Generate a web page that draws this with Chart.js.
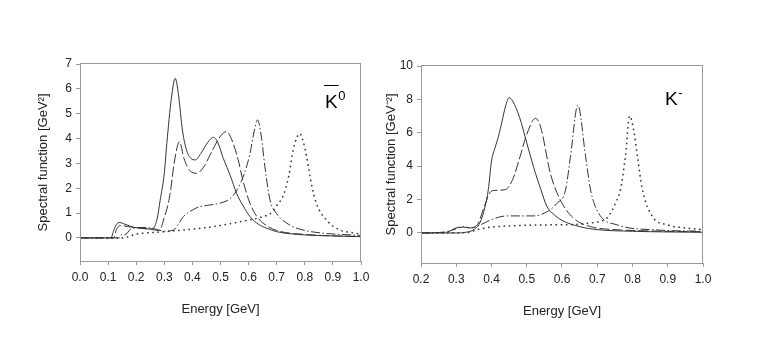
<!DOCTYPE html>
<html>
<head>
<meta charset="utf-8">
<script src="https://cdn.jsdelivr.net/npm/chart.js@4.4.0/dist/chart.umd.min.js"></script>
<style>
  body { margin: 0; background: #fff; width: 763px; height: 348px; position: relative; overflow: hidden; }
  .box { position: absolute; top: 0; height: 348px; }
</style>
</head>
<body>
<div class="box" style="left:0;width:380px"><canvas id="k0"></canvas></div>
<div class="box" style="left:380px;width:383px"><canvas id="km"></canvas></div>
<script>
// anti-kaon K0bar panel: energy [GeV] / spectral function
const k0SolidE = [0, 0.11, 0.12, 0.13, 0.14, 0.16, 0.19, 0.22, 0.25, 0.262, 0.275, 0.285, 0.3, 0.309, 0.325, 0.339, 0.35, 0.365, 0.38, 0.395, 0.41, 0.43, 0.455, 0.475, 0.49, 0.51, 0.535, 0.557, 0.58, 0.605, 0.635, 0.664, 0.7, 0.8, 0.9, 1.0];
const k0SolidS = [0, 0, 0.3, 0.55, 0.62, 0.55, 0.43, 0.38, 0.36, 0.4, 0.8, 1.5, 2.6, 3.8, 5.6, 6.42, 5.8, 4.3, 3.5, 3.2, 3.14, 3.4, 3.85, 4.05, 3.85, 3.2, 2.5, 1.8, 1.3, 0.86, 0.55, 0.39, 0.25, 0.12, 0.08, 0.05];
const k0DashE = [0, 0.12, 0.13, 0.145, 0.17, 0.2, 0.25, 0.28, 0.29, 0.297, 0.31, 0.321, 0.335, 0.354, 0.37, 0.39, 0.416, 0.44, 0.47, 0.5, 0.522, 0.54, 0.563, 0.58, 0.605, 0.63, 0.652, 0.7, 0.8, 0.9, 1.0];
const k0DashS = [0, 0, 0.35, 0.5, 0.45, 0.42, 0.35, 0.3, 0.45, 0.72, 1.2, 1.8, 3.0, 3.87, 3.2, 2.72, 2.6, 2.85, 3.5, 4.1, 4.28, 3.95, 3.14, 2.3, 1.39, 0.85, 0.59, 0.3, 0.14, 0.08, 0.06];
const k0DotDashE = [0, 0.14, 0.15, 0.16, 0.18, 0.22, 0.26, 0.3, 0.333, 0.35, 0.368, 0.4, 0.427, 0.46, 0.498, 0.53, 0.56, 0.585, 0.605, 0.62, 0.632, 0.645, 0.658, 0.676, 0.699, 0.746, 0.8, 0.865, 1.0];
const k0DotDashS = [0, 0, 0.15, 0.12, 0.35, 0.42, 0.38, 0.27, 0.32, 0.55, 0.86, 1.12, 1.26, 1.32, 1.4, 1.55, 1.95, 2.6, 3.4, 4.3, 4.75, 4.1, 2.87, 1.53, 0.99, 0.52, 0.3, 0.19, 0.1];
const k0DotE = [0, 0.15, 0.2, 0.3, 0.4, 0.5, 0.6, 0.65, 0.68, 0.7, 0.723, 0.743, 0.758, 0.772, 0.782, 0.795, 0.806, 0.823, 0.841, 0.877, 0.924, 0.971, 1.0];
const k0DotS = [0, 0, 0.15, 0.25, 0.35, 0.5, 0.72, 0.85, 1.0, 1.3, 1.7, 2.5, 3.5, 4.05, 4.2, 3.85, 3.3, 2.2, 1.4, 0.72, 0.32, 0.21, 0.15];

// K- panel
const kmSolidE = [0.2, 0.3, 0.33, 0.35, 0.367, 0.382, 0.391, 0.4, 0.41, 0.42, 0.43, 0.44, 0.45, 0.46, 0.48, 0.5, 0.52, 0.54, 0.557, 0.58, 0.6, 0.65, 0.7, 0.8, 0.9, 1.0];
const kmSolidS = [0, 0, 0.05, 0.2, 0.6, 1.6, 2.6, 4.3, 5.1, 5.8, 6.7, 7.6, 8.1, 7.9, 6.9, 5.4, 3.9, 2.6, 1.6, 1.05, 0.75, 0.38, 0.2, 0.1, 0.06, 0.04];
const kmDashE = [0.2, 0.27, 0.3, 0.32, 0.34, 0.36, 0.38, 0.395, 0.41, 0.44, 0.46, 0.48, 0.5, 0.525, 0.54, 0.567, 0.595, 0.633, 0.681, 0.75, 0.85, 1.0];
const kmDashS = [0, 0.05, 0.25, 0.35, 0.3, 0.5, 1.6, 2.4, 2.55, 2.6, 3.2, 4.5, 5.9, 6.87, 6.3, 3.57, 1.98, 0.88, 0.38, 0.2, 0.12, 0.07];
const kmDotDashE = [0.2, 0.27, 0.3, 0.32, 0.34, 0.37, 0.4, 0.443, 0.519, 0.56, 0.586, 0.61, 0.624, 0.645, 0.667, 0.681, 0.704, 0.757, 0.87, 1.0];
const kmDotDashS = [0, 0.05, 0.3, 0.38, 0.3, 0.5, 0.8, 1.02, 1.02, 1.3, 1.78, 2.57, 4.57, 7.66, 4.57, 2.57, 1.18, 0.48, 0.18, 0.1];
const kmDotE = [0.2, 0.33, 0.36, 0.4, 0.45, 0.54, 0.63, 0.68, 0.709, 0.728, 0.752, 0.766, 0.78, 0.792, 0.803, 0.814, 0.828, 0.856, 0.9, 0.95, 1.0];
const kmDotS = [0, 0.02, 0.2, 0.35, 0.42, 0.48, 0.5, 0.6, 0.7, 0.9, 1.8, 2.6, 4.6, 7.0, 6.2, 4.6, 2.6, 1.0, 0.48, 0.3, 0.2];

const k0EnergyTicks = [0, 0.1, 0.2, 0.3, 0.4, 0.5, 0.6, 0.7, 0.8, 0.9, 1.0];
const kmEnergyTicks = [0.2, 0.3, 0.4, 0.5, 0.6, 0.7, 0.8, 0.9, 1.0];
const k0SpecTicks = [0, 1, 2, 3, 4, 5, 6, 7];
const kmSpecTicks = [0, 2, 4, 6, 8, 10];

const ink = '#333';
const axisGrey = '#9a9a9a';
const FONT = 'Liberation Sans, Arial, sans-serif';

function pts(xs, ys) {
  return xs.map((x, i) => ({ x: x, y: ys[i] }));
}

function curve(xs, ys, dash, width) {
  return {
    data: pts(xs, ys),
    borderColor: ink,
    borderWidth: width || 1,
    borderDash: dash,
    pointRadius: 0,
    fill: false,
    cubicInterpolationMode: 'monotone'
  };
}

// frame box and the particle symbol in the corner
const framePlugin = {
  id: 'frame',
  afterDraw(chart, args, opts) {
    const ctx = chart.ctx, a = chart.chartArea;
    ctx.save();
    ctx.strokeStyle = axisGrey;
    ctx.lineWidth = 1;
    ctx.strokeRect(Math.round(a.left) + 0.5, Math.round(a.top) - 0.5, Math.round(a.width) - 1, Math.round(a.height) + 1);
    ctx.fillStyle = '#000';
    ctx.font = '19px ' + FONT;
    ctx.textBaseline = 'alphabetic';
    ctx.fillText('K', opts.x, opts.y);
    const kw = ctx.measureText('K').width;
    ctx.font = '13px ' + FONT;
    ctx.fillText(opts.sup, opts.x + kw + 0.5, opts.y - 8);
    if (opts.bar) {
      ctx.strokeStyle = '#000';
      ctx.beginPath();
      ctx.moveTo(opts.x - 1, opts.y - 22.5);
      ctx.lineTo(opts.x + kw + 1, opts.y - 22.5);
      ctx.stroke();
    }
    ctx.restore();
  }
};

function makeChart(id, sets, xMin, xTicks, yMin, yMax, yTicks, yTitle, pad, yWidth, mark) {
  return new Chart(document.getElementById(id), {
    type: 'line',
    data: { datasets: sets },
    plugins: [framePlugin],
    options: {
      responsive: true,
      maintainAspectRatio: false,
      animation: false,
      layout: { padding: pad },
      plugins: {
        legend: { display: false },
        tooltip: { enabled: false },
        frame: mark
      },
      scales: {
        x: {
          type: 'linear',
          min: xMin,
          max: 1.0,
          afterBuildTicks: s => { s.ticks = xTicks.map(v => ({ value: v })); },
          afterFit: s => { s.height = 60; },
          grid: { drawOnChartArea: false, tickLength: 4, color: axisGrey },
          border: { color: axisGrey },
          ticks: {
            color: '#222', font: { family: FONT, size: 12 }, padding: 5, maxRotation: 0,
            callback: v => v.toFixed(1)
          },
          title: { display: true, text: 'Energy [GeV]', color: '#222', font: { family: FONT, size: 13 }, padding: { top: 4, bottom: 4 } }
        },
        y: {
          min: yMin,
          max: yMax,
          afterBuildTicks: s => { s.ticks = yTicks.map(v => ({ value: v })); },
          afterFit: s => { s.width = yWidth; },
          grid: { drawOnChartArea: false, tickLength: 4, color: axisGrey },
          border: { color: axisGrey },
          ticks: { color: '#222', font: { family: FONT, size: 12 }, padding: 4 },
          title: { display: true, text: yTitle, color: '#222', font: { family: FONT, size: 13 }, padding: { top: 4, bottom: 4 } }
        }
      }
    }
  });
}

makeChart('k0', [
  curve(k0SolidE, k0SolidS, []),
  curve(k0DashE, k0DashS, [10, 3]),
  curve(k0DotDashE, k0DotDashS, [9, 2.5, 1.5, 2.5]),
  curve(k0DotE, k0DotS, [1.6, 3.6], 1.5)
], 0, k0EnergyTicks, -0.93, 7, k0SpecTicks, 'Spectral function [GeV\u00b2]',
  { left: 32, top: 64, right: 19, bottom: 27 }, 48,
  { x: 325, y: 108, sup: '0', bar: true });

makeChart('km', [
  curve(kmSolidE, kmSolidS, []),
  curve(kmDashE, kmDashS, [10, 3]),
  curve(kmDotDashE, kmDotDashS, [9, 2.5, 1.5, 2.5]),
  curve(kmDotE, kmDotS, [1.6, 3.6], 1.5)
], 0.2, kmEnergyTicks, -1.8, 10, kmSpecTicks, 'Spectral function [GeV\u207b\u00b2]',
  { left: 0, top: 66, right: 60, bottom: 25 }, 41,
  { x: 285, y: 105, sup: '-', bar: false });
</script>
</body>
</html>
